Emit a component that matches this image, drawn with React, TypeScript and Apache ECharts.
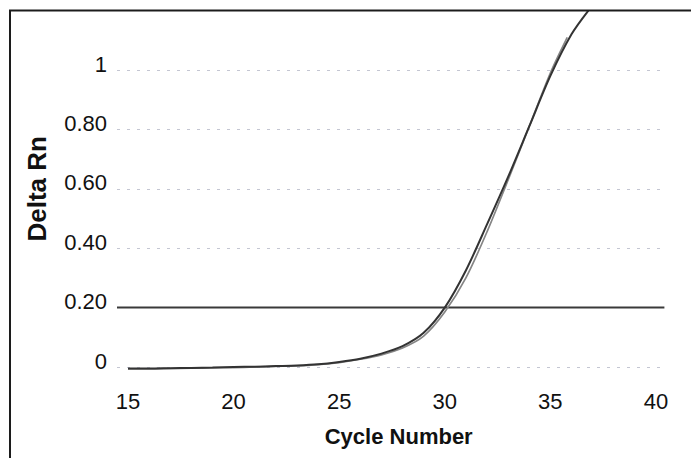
import React, { useEffect, useRef } from "react";
import * as echarts from "echarts";

// Amplification curve A (darker)
const cyclesA = [15, 16, 17, 18, 19, 20, 21, 22, 23, 24, 25, 26, 27, 28, 29, 30, 31, 32, 33, 34, 35, 36, 36.8];
const deltaRnA = [-0.005, -0.005, -0.004, -0.003, -0.002, 0.0, 0.001, 0.003, 0.005, 0.009, 0.017, 0.028, 0.045, 0.07, 0.115, 0.2, 0.325, 0.48, 0.64, 0.81, 0.98, 1.12, 1.2];

// Amplification curve B (lighter)
const cyclesB = [15, 16, 17, 18, 19, 20, 21, 22, 23, 24, 25, 26, 27, 28, 29, 30, 31, 32, 33, 34, 35, 35.8];
const deltaRnB = [-0.006, -0.006, -0.005, -0.004, -0.003, -0.002, 0.0, 0.002, 0.004, 0.008, 0.015, 0.026, 0.041, 0.064, 0.104, 0.185, 0.3, 0.455, 0.63, 0.81, 0.99, 1.11];

// Threshold line (spans slightly beyond the 15–40 labels, as in the reference)
const thresholdValue = 0.2;
const thresholdCycles = [14.48, 40.4];

const xTicks = [15, 20, 25, 30, 35, 40];
const yTicks = [0, 0.2, 0.4, 0.6, 0.8, 1];
const yTickLabels = ["0", "0.20", "0.40", "0.60", "0.80", "1"];

export default function App() {
  const ref = useRef<HTMLDivElement>(null);

  useEffect(() => {
    if (!ref.current) return;
    const chart = echarts.init(ref.current, null, { renderer: "svg" });
    const font = "'Liberation Sans', Arial, sans-serif";
    chart.setOption({
      animation: false,
      backgroundColor: "#ffffff",
      grid: { left: 117, right: 26.6, top: 10.6, bottom: 91 },
      xAxis: {
        type: "value",
        min: thresholdCycles[0],
        max: thresholdCycles[1],
        name: "Cycle Number",
        nameLocation: "middle",
        nameGap: 58,
        nameTextStyle: {
          fontFamily: font,
          fontWeight: "bold",
          fontSize: 22,
          color: "#111",
          padding: [0, 0, 0, 16],
        },
        axisLine: { show: false },
        axisTick: { show: false },
        splitLine: { show: false },
        axisLabel: {
          customValues: xTicks,
          margin: 23,
          fontFamily: font,
          fontSize: 22,
          color: "#111",
        },
      },
      yAxis: {
        type: "value",
        min: 0,
        max: 1.2,
        interval: 0.2,
        name: "Delta Rn",
        nameLocation: "middle",
        nameGap: 67,
        nameTextStyle: {
          fontFamily: font,
          fontWeight: "bold",
          fontSize: 26,
          color: "#111",
        },
        axisLine: { show: false },
        axisTick: { show: false },
        splitLine: {
          show: true,
          lineStyle: { color: "#c4c6d2", type: [3, 7], width: 1.2 },
        },
        axisLabel: {
          margin: 10,
          fontFamily: font,
          fontSize: 22,
          color: "#111",
          verticalAlign: "bottom",
          lineHeight: 12,
          formatter: (v: number) => {
            const i = yTicks.findIndex((t) => Math.abs(t - v) < 1e-9);
            return i >= 0 ? yTickLabels[i] : "";
          },
        },
      },
      graphic: [
        {
          type: "rect",
          shape: { x: 10, y: 10.5, width: 720, height: 500 },
          style: { fill: "none", stroke: "#1c1c1c", lineWidth: 2 },
          z: 100,
        },
      ],
      series: [
        {
          name: "Threshold",
          type: "line",
          showSymbol: false,
          symbol: "none",
          data: thresholdCycles.map((c) => [c, thresholdValue]),
          lineStyle: { color: "#3a3a3a", width: 2 },
          z: 3,
        },
        {
          name: "Sample B",
          type: "line",
          clip: false,
          smooth: 0.3,
          symbol: "none",
          data: cyclesB.map((c, i) => [c, deltaRnB[i]]),
          lineStyle: { color: "#858585", width: 1.7 },
          z: 4,
        },
        {
          name: "Sample A",
          type: "line",
          clip: false,
          smooth: 0.3,
          symbol: "none",
          data: cyclesA.map((c, i) => [c, deltaRnA[i]]),
          lineStyle: { color: "#333333", width: 2 },
          z: 5,
        },
      ],
    });
    return () => chart.dispose();
  }, []);

  return (
    <div
      ref={ref}
      style={{ position: "fixed", left: 0, top: 0, width: 691, height: 458, background: "#fff" }}
    />
  );
}
